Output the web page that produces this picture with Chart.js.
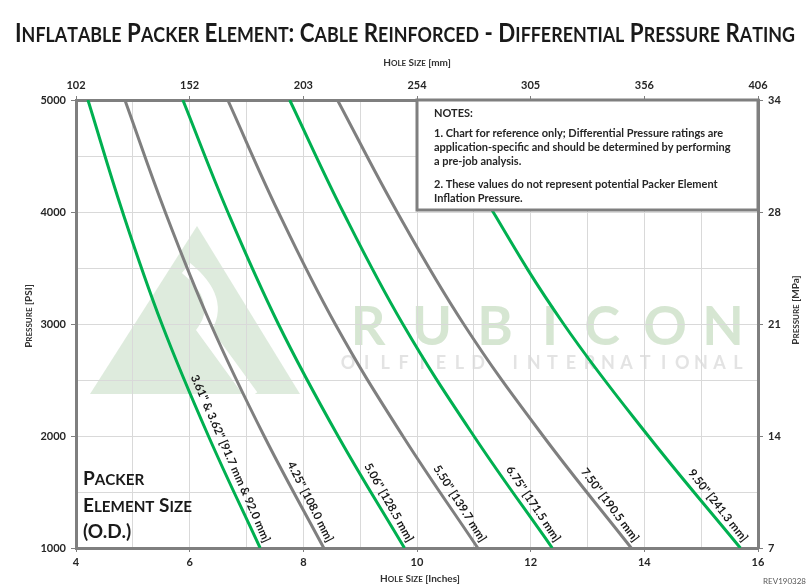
<!DOCTYPE html>
<html>
<head>
<meta charset="utf-8">
<script src="https://cdn.jsdelivr.net/npm/chart.js@4.4.1/dist/chart.umd.min.js"></script>
<style>
  html, body { margin: 0; padding: 0; background: #fff; }
  #wrap { width: 811px; height: 586px; }
</style>
</head>
<body>
<div id="wrap"><canvas id="chart" width="811" height="586"></canvas></div>
<script>
// pressure levels (psi) where each curve was read
const pressurePsi = [5000, 4000, 3000, 2000, 1000];

// hole size (inches) of each curve at those pressures
const hole361 = [4.21, 4.82, 5.51, 6.33, 7.24];
const hole425 = [4.86, 5.57, 6.37, 7.31, 8.36];
const hole506 = [5.88, 6.67, 7.56, 8.61, 9.78];
const hole550 = [6.67, 7.56, 8.56, 9.75, 11.07];
const hole675 = [7.76, 8.70, 9.75, 11.00, 12.38];
const hole750 = [8.60, 9.65, 10.82, 12.22, 13.77];
const hole950 = [10.25, 11.34, 12.58, 14.07, 15.69];

const elementLabels = [
  '3.61" & 3.62" [91.7 mm & 92.0 mm]',
  '4.25" [108.0 mm]',
  '5.06" [128.5 mm]',
  '5.50" [139.7 mm]',
  '6.75" [171.5 mm]',
  '7.50" [190.5 mm]',
  '9.50" [241.3 mm]'
];
const seriesHoles = [hole361, hole425, hole506, hole550, hole675, hole750, hole950];

// tick labels
const inchTicks = ['4', '6', '8', '10', '12', '14', '16'];
const mmTicks = ['102', '152', '203', '254', '305', '356', '406'];
const psiTicks = ['1000', '2000', '3000', '4000', '5000'];
const mpaTicks = ['7', '14', '21', '28', '34'];

const notesLines = [
  'NOTES:',
  '1. Chart for reference only; Differential Pressure ratings are',
  'application-specific and should be determined by performing',
  'a pre-job analysis.',
  '2. These values do not represent potential Packer Element',
  'Inflation Pressure.'
];

const GREEN = '#00b050';
const GRAY = '#7f7f7f';
const FONT = 'Lato';

// draw text where lowercase letters of small-caps parts become smaller capitals
function drawRich(ctx, segs, x, y, size, weight, align, measureOnly) {
  const runs = [];
  segs.forEach(([t, sc]) => {
    if (!sc) { runs.push([t, size]); return; }
    for (const ch of t) {
      const low = ch !== ch.toUpperCase();
      runs.push([ch.toUpperCase(), low ? size * 0.8 : size]);
    }
  });
  let w = 0;
  runs.forEach(r => {
    ctx.font = weight + ' ' + r[1] + 'px ' + FONT;
    r.push(ctx.measureText(r[0]).width);
    w += r[2];
  });
  if (measureOnly) return w;
  let cx = align === 'center' ? x - w / 2 : align === 'right' ? x - w : x;
  ctx.textAlign = 'left';
  ctx.textBaseline = 'alphabetic';
  runs.forEach(r => {
    ctx.font = weight + ' ' + r[1] + 'px ' + FONT;
    ctx.fillText(r[0], cx, y);
    cx += r[2];
  });
  return w;
}

const decor = {
  id: 'decor',
  beforeDraw(chart) {
    const ctx = chart.ctx;
    ctx.save();
    ctx.fillStyle = '#fff';
    ctx.fillRect(0, 0, chart.width, chart.height);
    // faint company watermark
    ctx.fillStyle = 'rgba(200,222,198,0.6)';
    ctx.beginPath();
    ctx.moveTo(197, 226);
    ctx.lineTo(90, 394);
    ctx.lineTo(300, 394);
    ctx.closePath();
    ctx.fill();
    ctx.strokeStyle = '#fff';
    ctx.lineWidth = 13;
    ctx.beginPath();
    ctx.moveTo(186, 268);
    ctx.quadraticCurveTo(225, 300, 204, 330);
    ctx.lineTo(252, 396);
    ctx.stroke();
    ctx.fillStyle = 'rgba(200,222,195,0.75)';
    ctx.font = 'bold 54px ' + FONT;
    ctx.textBaseline = 'alphabetic';
    ctx.textAlign = 'center';
    const letters = 'RUBICON';
    const centers = [368, 432, 495, 550, 602, 665, 723];
    for (let i = 0; i < letters.length; i++) ctx.fillText(letters[i], centers[i], 345);
    ctx.fillStyle = 'rgba(222,222,222,0.85)';
    ctx.font = 'bold 18px ' + FONT;
    const sub = 'OILFIELD INTERNATIONAL';
    const step = (735 - 345) / (sub.length - 1);
    for (let i = 0; i < sub.length; i++) ctx.fillText(sub[i], 348 + i * step, 369);
    ctx.restore();
  },
  afterDatasetsDraw(chart) {
    const ctx = chart.ctx;
    ctx.save();
    // labels along each curve, parallel to its lower chord
    ctx.fillStyle = '#1a1a1a';
    ctx.font = 'bold 11.5px ' + FONT;
    ctx.textAlign = 'right';
    ctx.textBaseline = 'alphabetic';
    chart.data.datasets.forEach((ds, i) => {
      const pts = chart.getDatasetMeta(i).data;
      const a = pts[pts.length - 3], b = pts[pts.length - 1];
      const dx = b.x - a.x, dy = b.y - a.y, len = Math.hypot(dx, dy);
      const ux = dx / len, uy = dy / len;
      const nx = uy, ny = -ux;
      const px = b.x - ux * 3 + nx * 5, py = b.y - uy * 3 + ny * 5;
      ctx.save();
      ctx.translate(px, py);
      ctx.rotate(Math.atan2(dy, dx));
      ctx.fillText(ds.label, 0, 0);
      ctx.restore();
    });
    // notes box
    ctx.fillStyle = '#fff';
    ctx.fillRect(417, 100, 341, 110);
    ctx.strokeStyle = GRAY;
    ctx.lineWidth = 3;
    ctx.strokeRect(417, 100, 341, 110);
    ctx.fillStyle = '#262626';
    ctx.font = 'bold 11px ' + FONT;
    ctx.textAlign = 'left';
    const ys = [117, 137, 151, 165, 188, 202];
    notesLines.forEach((t, i) => ctx.fillText(t, 434, ys[i]));
    // packer element size legend text
    ctx.fillStyle = '#1a1a1a';
    drawRich(ctx, [['Packer', true]], 83, 485, 19, 'bold', 'left');
    drawRich(ctx, [['Element Size', true]], 83, 512, 19, 'bold', 'left');
    drawRich(ctx, [['(O.D.)', false]], 83, 538, 19, 'bold', 'left');
    ctx.restore();
  },
  afterDraw(chart) {
    const ctx = chart.ctx;
    ctx.save();
    ctx.fillStyle = '#1a1a1a';
    // title, condensed horizontally to the reference width
    const titleSegs = [['Inflatable Packer Element: Cable Reinforced - Differential Pressure Rating', true]];
    const tSize = 27;
    const w0 = drawRich(ctx, titleSegs, 0, 0, tSize, 'bold', 'left', true);
    ctx.save();
    ctx.translate(405, 42);
    ctx.scale(780 / w0, 1);
    drawRich(ctx, titleSegs, 0, 0, tSize, 'bold', 'center');
    ctx.restore();
    ctx.fillStyle = '#333';
    drawRich(ctx, [['Hole Size', true], [' [mm]', false]], 417, 66, 10, 'bold', 'center');
    drawRich(ctx, [['Hole Size', true], [' [Inches]', false]], 420, 582, 10, 'bold', 'center');
    ctx.save();
    ctx.translate(32, 316);
    ctx.rotate(-Math.PI / 2);
    drawRich(ctx, [['Pressure', true], [' [PSI]', false]], 0, 0, 10, 'bold', 'center');
    ctx.restore();
    ctx.save();
    ctx.translate(799, 310);
    ctx.rotate(-Math.PI / 2);
    drawRich(ctx, [['Pressure', true], [' [MPa]', false]], 0, 0, 10, 'bold', 'center');
    ctx.restore();
    ctx.fillStyle = '#595959';
    ctx.font = '8px ' + FONT;
    ctx.textAlign = 'right';
    ctx.fillText('REV190328', 806, 584);
    ctx.restore();
  }
};

const tickFont = { family: FONT, weight: 'bold', size: 11 };

const datasets = seriesHoles.map((holes, i) => ({
  label: elementLabels[i],
  data: holes.map((h, j) => ({ x: h, y: pressurePsi[j] })),
  borderColor: i % 2 === 0 ? GREEN : GRAY,
  borderWidth: 3,
  pointRadius: 0,
  tension: 0.4,
  fill: false
}));

new Chart(document.getElementById('chart'), {
  type: 'line',
  data: { datasets },
  plugins: [decor],
  options: {
    responsive: false,
    animation: false,
    devicePixelRatio: 1,
    layout: { padding: 0 },
    plugins: { legend: { display: false }, tooltip: { enabled: false } },
    scales: {
      x: {
        type: 'linear', position: 'bottom', min: 4, max: 16,
        afterFit: s => { s.height = 38; },
        ticks: {
          stepSize: 1, autoSkip: false, maxRotation: 0, padding: 4, color: '#262626', font: tickFont,
          callback: v => (v % 2 === 0 ? inchTicks[(v - 4) / 2] : '')
        },
        grid: { color: '#d9d9d9', tickLength: 4, tickColor: c => (c.tick && c.tick.value % 2 === 0 ? GRAY : 'rgba(0,0,0,0)') },
        border: { color: GRAY, width: 3 }
      },
      xTop: {
        type: 'linear', position: 'top', min: 4, max: 16,
        afterFit: s => { s.height = 100; },
        ticks: {
          stepSize: 2, autoSkip: false, maxRotation: 0, padding: 4, color: '#262626', font: tickFont,
          callback: v => mmTicks[(v - 4) / 2]
        },
        grid: { drawOnChartArea: false, tickLength: 4, color: GRAY },
        border: { color: GRAY, width: 3 }
      },
      y: {
        type: 'linear', position: 'left', min: 1000, max: 5000,
        afterFit: s => { s.width = 76; },
        ticks: {
          stepSize: 500, autoSkip: false, padding: 5, color: '#262626', font: tickFont,
          callback: v => (v % 1000 === 0 ? psiTicks[v / 1000 - 1] : '')
        },
        grid: { color: '#d9d9d9', tickLength: 5, tickColor: c => (c.tick && c.tick.value % 1000 === 0 ? GRAY : 'rgba(0,0,0,0)') },
        border: { color: GRAY, width: 3 }
      },
      yRight: {
        type: 'linear', position: 'right', min: 1000, max: 5000,
        afterFit: s => { s.width = 53; },
        ticks: {
          stepSize: 1000, autoSkip: false, padding: 5, color: '#262626', font: tickFont,
          callback: v => mpaTicks[v / 1000 - 1]
        },
        grid: { drawOnChartArea: false, tickLength: 5, color: GRAY },
        border: { color: GRAY, width: 3 }
      }
    }
  }
});
</script>
</body>
</html>
